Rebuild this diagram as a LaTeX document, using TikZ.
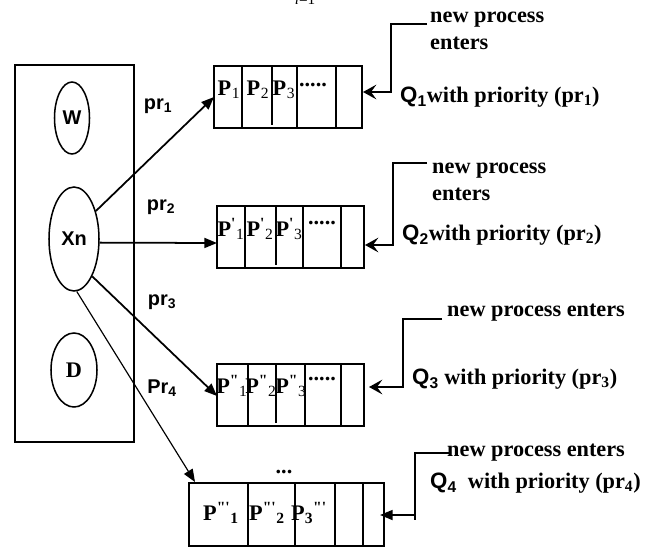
\documentclass[tikz,border=0pt]{standalone}
\usepackage{fontspec}
\setmainfont{Liberation Serif}
\newfontfamily\arialfont{Liberation Sans}
\usetikzlibrary{arrows.meta,shapes.geometric}

% a process entry: P with a mark above and an index below
\newcommand{\procP}[2]{P\textsuperscript{#1}\textsubscript{\mdseries #2}}

\tikzset{
  box/.style={line width=1.6pt},
  oval/.style={draw, ellipse, line width=1.3pt, inner sep=0pt},
  sanslbl/.style={font=\arialfont\bfseries\fontsize{17}{20}\selectfont, inner sep=0pt},
  serlbl/.style={font=\bfseries\fontsize{19}{23}\selectfont, inner sep=0pt},
  toq/.style={line width=1.5pt, -{Triangle[length=3.8mm,width=3mm]}},
  feed/.style={line width=1.5pt, -{Stealth[length=4mm,width=4.4mm,inset=1.6mm]}},
}

\begin{document}
\begin{tikzpicture}[x=0.03cm,y=-0.03cm]
    \useasboundingbox (0,0) rectangle (657,547);

    %%%%% scheduler box %%%%%
    \node[serlbl, font=\itshape\fontsize{13}{15}\selectfont, anchor=base] (lim) at (305,4) {i\upshape=1};

    \draw[box] (15,65) rectangle (134,442);
    \node[oval, minimum width=1.05cm, minimum height=2.16cm] (w) at (72,118) {};
    \node[sanslbl] at (w) {W};
    \node[oval, minimum width=1.5cm, minimum height=3.12cm] (xn) at (74,239) {};
    \node[sanslbl] at (xn) {Xn};
    \node[oval, minimum width=1.38cm, minimum height=2.22cm] (d) at (74,370) {};
    \node[serlbl] at (d) {D};

    %%%%% queue 1 %%%%%
    \draw[box] (214,66) rectangle (362,128);
    \foreach \x in {242,297,336} \draw[box] (\x,66) -- (\x,128);
    \draw[box] (272,66) -- (272,125);
    \node[serlbl] at (229,90) {\procP{}{1}};
    \node[serlbl] at (258,90) {\procP{}{2}};
    \node[serlbl] at (284,90) {\procP{}{3}};
    \node[serlbl] at (313,85) {.....};
    \coordinate (q1in) at (214,97);
    \coordinate (q1back) at (363,92);

    %%%%% queue 2 %%%%%
    \draw[box] (217,206) rectangle (364,268);
    \foreach \x in {245,303,341} \draw[box] (\x,206) -- (\x,268);
    \draw[box] (276,206) -- (276,265);
    \node[serlbl] at (231,229) {\procP{\textquotesingle}{1}};
    \node[serlbl] at (260,229) {\procP{\textquotesingle}{2}};
    \node[serlbl] at (289,229) {\procP{\textquotesingle}{3}};
    \node[serlbl] at (322,223) {.....};
    \coordinate (q2in) at (217,243);
    \coordinate (q2back) at (365,245);

    %%%%% queue 3 %%%%%
    \draw[box] (217,364) rectangle (364,426);
    \foreach \x in {248,305,341} \draw[box] (\x,364) -- (\x,426);
    \draw[box] (276,364) -- (276,423);
    \node[serlbl] at (232,386) {\procP{\textquotedbl}{1}};
    \node[serlbl] at (261,386) {\procP{\textquotedbl}{2}};
    \node[serlbl] at (291,386) {\procP{\textquotedbl}{3}};
    \node[serlbl] at (322,379) {.....};
    \coordinate (q3in) at (217,396);
    \coordinate (q3back) at (369,387);

    %%%%% queue 4 %%%%%
    \draw[box] (189,483) rectangle (384,546);
    \foreach \x in {248,295,335,363} \draw[box] (\x,483) -- (\x,546);
    \node[serlbl] at (221,513) {P\textsuperscript{\textquotedbl\textquotesingle}\textsubscript{1}};
    \node[serlbl] at (267,513) {P\textsuperscript{\textquotedbl\textquotesingle}\textsubscript{2}};
    \node[serlbl] at (309,513) {P\textsubscript{3}\textsuperscript{\textquotedbl\textquotesingle}};
    \node[serlbl] at (284,472) {...};
    \coordinate (q4in) at (195,482);
    \coordinate (q4back) at (380,515);

    %%%%% priorities %%%%%
    \draw[toq] (xn.52) -- (q1in);
    \draw[toq] (xn.-8) -- (q2in);
    \draw[toq] (xn.-64) -- (q3in);
    \draw[line width=1pt, -{Triangle[length=3.8mm,width=3mm]}] (xn.-87) -- (q4in);

    \node[sanslbl] (pr1) at (158,106) {pr\textsubscript{1}};
    \node[sanslbl] (pr2) at (161,207) {pr\textsubscript{2}};
    \node[sanslbl] (pr3) at (162,302) {pr\textsubscript{3}};
    \node[sanslbl] (pr4) at (162,388) {Pr\textsubscript{4}};

    %%%%% new processes %%%%%
    \node[serlbl, anchor=west, align=left] (new1) at (430,31) {new process\\enters};
    \node[serlbl, anchor=west] (lab1) at (400,97) {{\arialfont Q\textsubscript{1}}with priority (pr\textsubscript{1})};
    \coordinate (f1) at (427,24);
    \coordinate (c1) at (391,92);
    \draw[feed] (f1) -| (c1) -- (q1back);

    \node[serlbl, anchor=west, align=left] (new2) at (432,182) {new process\\enters};
    \node[serlbl, anchor=west] (lab2) at (402,235) {{\arialfont Q\textsubscript{2}}with priority (pr\textsubscript{2})};
    \coordinate (f2) at (427,163);
    \coordinate (c2) at (393,245);
    \draw[feed] (f2) -| (c2) -- (q2back);

    \node[serlbl, anchor=west] (new3) at (447,313) {new process enters};
    \node[serlbl, anchor=west] (lab3) at (412,379) {{\arialfont Q\textsubscript{3}} with priority (pr\textsubscript{3})};
    \coordinate (f3) at (442,319);
    \coordinate (c3) at (403,387);
    \draw[feed] (f3) -| (c3) -- (q3back);

    \node[serlbl, anchor=west] (new4) at (447,453) {new process enters};
    \node[serlbl, anchor=west] (lab4) at (430,483) {{\arialfont Q\textsubscript{4}}\ \ with priority (pr\textsubscript{4})};
    \coordinate (f4) at (449,453);
    \coordinate (c4) at (415,515);
    \draw[line width=1.5pt] (c4) -- (415,520);
    \draw[line width=1.5pt, -{Triangle[length=3.8mm,width=3mm]}] (f4) -| (c4) -- (q4back);
\end{tikzpicture}
\end{document}
